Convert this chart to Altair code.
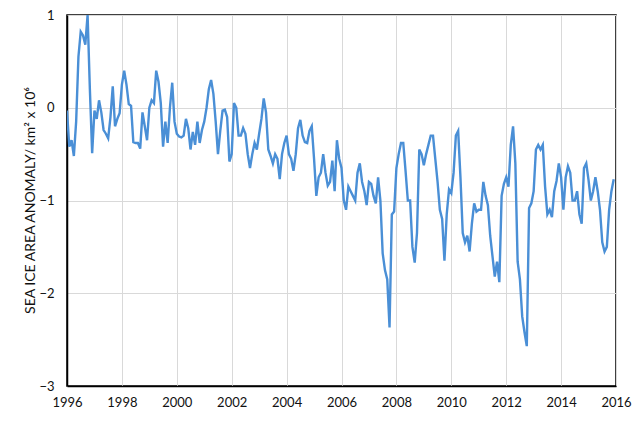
import altair as alt
import pandas as pd

# Monthly sea ice area anomaly (10^6 km^2), Jan..Dec for each year
y1996 = [-0.03, -0.42, -0.35, -0.52, -0.15, 0.55, 0.82, 0.78, 0.68, 1.0, 0.2, -0.49]
y1997 = [-0.03, -0.12, 0.08, -0.05, -0.24, -0.28, -0.33, -0.1, 0.23, -0.2, -0.12, -0.06]
y1998 = [0.25, 0.40, 0.25, 0.04, 0.02, -0.37, -0.38, -0.38, -0.44, -0.05, -0.2, -0.35]
y1999 = [0.0, 0.08, 0.05, 0.40, 0.28, 0.05, -0.42, -0.15, -0.38, 0.0, 0.27, -0.15]
y2000 = [-0.28, -0.31, -0.32, -0.3, -0.12, -0.22, -0.45, -0.26, -0.4, -0.15, -0.38, -0.24]
y2001 = [-0.15, 0.0, 0.2, 0.3, 0.15, -0.15, -0.5, -0.25, -0.03, -0.02, -0.1, -0.58]
y2002 = [-0.5, 0.05, 0.0, -0.3, -0.3, -0.22, -0.28, -0.5, -0.65, -0.5, -0.38, -0.45]
y2003 = [-0.28, -0.12, 0.1, -0.05, -0.45, -0.52, -0.6, -0.5, -0.55, -0.77, -0.5, -0.38]
y2004 = [-0.3, -0.5, -0.55, -0.68, -0.5, -0.22, -0.13, -0.3, -0.37, -0.38, -0.25, -0.2]
y2005 = [-0.55, -0.95, -0.75, -0.7, -0.5, -0.7, -0.84, -0.8, -0.57, -0.9, -0.35, -0.55]
y2006 = [-0.65, -1.0, -1.1, -0.85, -0.9, -0.95, -1.0, -0.7, -0.6, -0.8, -0.9, -1.05]
y2007 = [-0.8, -0.82, -0.95, -1.03, -0.75, -1.0, -1.57, -1.75, -1.85, -2.37, -1.15, -1.12]
y2008 = [-0.65, -0.5, -0.38, -0.38, -0.68, -1.0, -1.0, -1.5, -1.67, -1.35, -0.45, -0.5]
y2009 = [-0.62, -0.5, -0.4, -0.3, -0.3, -0.55, -0.8, -1.1, -1.2, -1.65, -1.15, -0.88]
y2010 = [-0.92, -0.7, -0.3, -0.25, -0.75, -1.35, -1.45, -1.38, -1.55, -1.25, -1.03, -1.12]
y2011 = [-1.1, -1.1, -0.8, -0.95, -1.05, -1.38, -1.6, -1.82, -1.66, -1.88, -0.95, -0.82]
y2012 = [-0.75, -0.85, -0.4, -0.2, -0.6, -1.66, -1.85, -2.25, -2.42, -2.57, -1.08, -1.03]
y2013 = [-0.9, -0.45, -0.4, -0.45, -0.4, -0.85, -1.15, -1.1, -1.18, -0.9, -0.79, -0.6]
y2014 = [-0.75, -1.1, -0.75, -0.63, -0.7, -1.0, -1.0, -0.9, -1.15, -1.25, -0.65, -0.6]
y2015 = [-0.78, -1.0, -0.9, -0.75, -0.9, -1.1, -1.45, -1.55, -1.5, -1.1, -0.9, -0.77]

years = list(range(1996, 2016))
series = [y1996, y1997, y1998, y1999, y2000, y2001, y2002, y2003, y2004, y2005,
          y2006, y2007, y2008, y2009, y2010, y2011, y2012, y2013, y2014, y2015]

x_ticks = [1996, 1998, 2000, 2002, 2004, 2006, 2008, 2010, 2012, 2014, 2016]
y_ticks = [1, 0, -1, -2, -3]

rows = []
for yr, vals in zip(years, series):
    for m, v in enumerate(vals):
        rows.append({"t": yr + m / 12.0, "v": v})
df = pd.DataFrame(rows)

FONT = "Lato"

chart = alt.Chart(df).mark_line(color="#4A8FD6", strokeWidth=2.4, clip=True).encode(
    x=alt.X("t:Q",
            scale=alt.Scale(domain=[1996, 2016], nice=False, zero=False),
            axis=alt.Axis(values=x_ticks, format="d", title=None, grid=True,
                          gridColor="#D9D9D9", gridWidth=1, ticks=False,
                          domainColor="#000000", domainWidth=1.5,
                          labelFont=FONT, labelFontSize=13, labelColor="#111111",
                          labelPadding=10, labelFlush=False)),
    y=alt.Y("v:Q",
            scale=alt.Scale(domain=[-3, 1], nice=False, zero=False),
            axis=alt.Axis(values=y_ticks, format="d", grid=True,
                          gridColor="#D9D9D9", gridWidth=1, ticks=False,
                          domainColor="#000000", domainWidth=1.5,
                          labelFont=FONT, labelFontSize=13, labelColor="#111111",
                          labelPadding=13,
                          title="SEA ICE AREA ANOMALY/ km² x 10⁶",
                          titleFont=FONT, titleFontSize=14, titleFontWeight="normal",
                          titleColor="#111111", titleAngle=270,
                          titleX=-37, titleY=185, titleAlign="center",
                          titleBaseline="middle")),
).properties(
    width=549, height=371,
    background="#FFFFFF",
    autosize=alt.AutoSizeParams(type="none"),
    padding={"left": 59, "top": 7, "right": 16, "bottom": 33},
).configure_view(
    stroke="#000000", strokeWidth=1.5
)

chart.save("out.html", embed_options={"renderer": "svg", "actions": False})
